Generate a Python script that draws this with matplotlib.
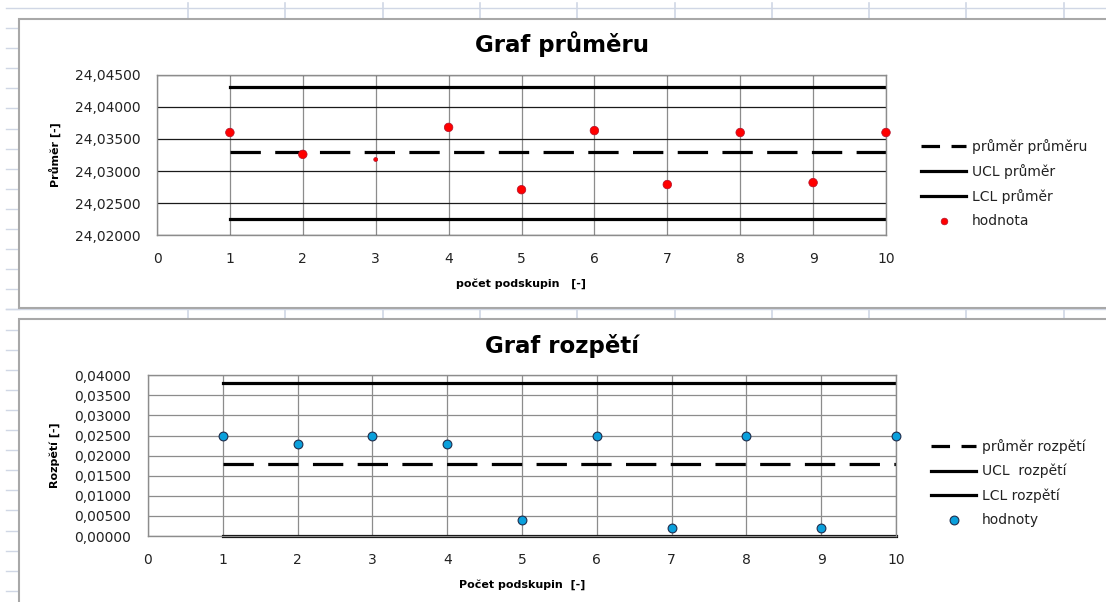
import numpy as np
import matplotlib.pyplot as plt
from matplotlib.lines import Line2D
from matplotlib.patches import Rectangle
from matplotlib.ticker import MultipleLocator, FuncFormatter

# data
podskupiny = [1, 2, 3, 4, 5, 6, 7, 8, 9, 10]
prumery = [24.0360, 24.0326, 24.0318, 24.0368, 24.0271,
           24.0363, 24.0279, 24.0360, 24.0282, 24.0360]
prumer_prumeru = 24.0329
ucl_prumer = 24.0431
lcl_prumer = 24.0226

rozpeti = [0.0250, 0.0230, 0.0250, 0.0230, 0.0041,
           0.0250, 0.0020, 0.0250, 0.0020, 0.0250]
prumer_rozpeti = 0.0180
ucl_rozpeti = 0.0381
lcl_rozpeti = 0.0

W, H = 1106, 602
fig = plt.figure(figsize=(W / 100, H / 100), dpi=100)
plt.rcParams['font.family'] = ['DejaVu Sans']


def rect(l, t, r, b):
  return [l / W, 1 - b / H, (r - l) / W, (b - t) / H]


def fline(x0, y0, x1, y1, **kw):
  fig.add_artist(Line2D([x0 / W, x1 / W], [1 - y0 / H, 1 - y1 / H],
                        transform=fig.transFigure, **kw))


# spreadsheet cells behind the charts
cell = '#D0D7E5'
fline(6, 8, W, 8, color=cell, lw=1, zorder=-10)
fline(6, 309, W, 309, color=cell, lw=1, zorder=-10)
for y in np.arange(28, H, 20.1):
  fline(6, y, 19, y, color=cell, lw=1, zorder=-10)
for x in np.arange(188, W, 97.3):
  fline(x, 3, x, 18, color=cell, lw=1.2, zorder=-10)
  fline(x, 308, x, 319, color=cell, lw=1.2, zorder=-10)

# chart boxes
for l, t, r, b in [(19, 18.5, W + 5, 307.5), (19, 319, W + 5, H + 5)]:
  fig.add_artist(Rectangle((l / W, 1 - b / H), (r - l) / W, (b - t) / H,
                           transform=fig.transFigure, facecolor='white',
                           edgecolor='#A8A8A8', lw=1.5, zorder=-5))

comma = FuncFormatter(lambda v, p: f'{v:.5f}'.replace('.', ','))


def setup(ax, ymin, ymax, hcolor):
  ax.set_xlim(0, 10)
  ax.set_ylim(ymin, ymax)
  ax.xaxis.set_major_locator(MultipleLocator(1))
  ax.yaxis.set_major_locator(MultipleLocator(0.005))
  ax.yaxis.set_major_formatter(comma)
  ax.tick_params(length=0, pad=12, labelsize=10, labelcolor='#222222')
  ax.yaxis.grid(True, color=hcolor, lw=0.9)
  ax.xaxis.grid(True, color='#8C8C8C', lw=0.9)
  ax.set_axisbelow(True)
  for s in ax.spines.values():
    s.set_color('#8C8C8C')
    s.set_linewidth(1)


def add_legend(handles, x, y):
  labels = [h.get_label() for h in handles]
  # legend proxy for the dashed line: two dashes in the handle
  dashed = Line2D([], [], color='black', lw=2.3, dashes=(5.8, 3.6))
  fig.legend([dashed] + handles[1:], labels,
             loc='upper left', bbox_to_anchor=(x / W, 1 - y / H),
             frameon=False, fontsize=10, handlelength=3.25, handletextpad=0.4,
             labelspacing=0.72, borderpad=0, borderaxespad=0, labelcolor='#222222')


n = len(podskupiny)

# Graf průměru
ax1 = fig.add_axes(rect(157, 74.7, 886, 235.3))
setup(ax1, 24.020, 24.045, '#1A1A1A')
l1, = ax1.plot(podskupiny, [prumer_prumeru] * n, color='black', lw=2.3,
               dashes=(9.5, 4.5), label='průměr průměru')
l2, = ax1.plot(podskupiny, [ucl_prumer] * n, color='black', lw=2.3, label='UCL průměr')
l3, = ax1.plot(podskupiny, [lcl_prumer] * n, color='black', lw=2.3, label='LCL průměr')
sizes = np.full(n, 38.0)
sizes[2] = 8
s1 = ax1.scatter(podskupiny, prumery, s=sizes, color='#FF0000',
                 edgecolor='#B0102A', lw=0.5, zorder=5, clip_on=False, label='hodnota')
ax1.set_title('Graf průměru', fontsize=16.5, fontweight='bold', pad=16, x=0.556)
ax1.set_xlabel('počet podskupin   [-]', fontsize=8, fontweight='bold', labelpad=9)
ax1.set_ylabel('Průměr [-]', fontsize=8, fontweight='bold', labelpad=10)
add_legend([l1, l2, l3, s1], 921, 139)

# Graf rozpětí
ax2 = fig.add_axes(rect(148, 375.3, 896, 536))
setup(ax2, 0, 0.04, '#8C8C8C')
m1, = ax2.plot(podskupiny, [prumer_rozpeti] * n, color='black', lw=2.3,
               dashes=(9.5, 4.5), label='průměr rozpětí')
m2, = ax2.plot(podskupiny, [ucl_rozpeti] * n, color='black', lw=2.3, label='UCL  rozpětí')
m3, = ax2.plot(podskupiny, [lcl_rozpeti] * n, color='black', lw=2.3, label='LCL rozpětí',
               clip_on=False)
s2 = ax2.scatter(podskupiny, rozpeti, s=40, color='#0AA0DC', edgecolor='#1F2D4D',
                 lw=0.8, zorder=5, clip_on=False, label='hodnoty')
ax2.set_title('Graf rozpětí', fontsize=16.5, fontweight='bold', pad=16, x=0.553)
ax2.set_xlabel('Počet podskupin  [-]', fontsize=8, fontweight='bold', labelpad=9)
ax2.set_ylabel('Rozpětí [-]', fontsize=8, fontweight='bold', labelpad=10)
add_legend([m1, m2, m3, s2], 931, 439)

plt.savefig('out.png', dpi=100)
